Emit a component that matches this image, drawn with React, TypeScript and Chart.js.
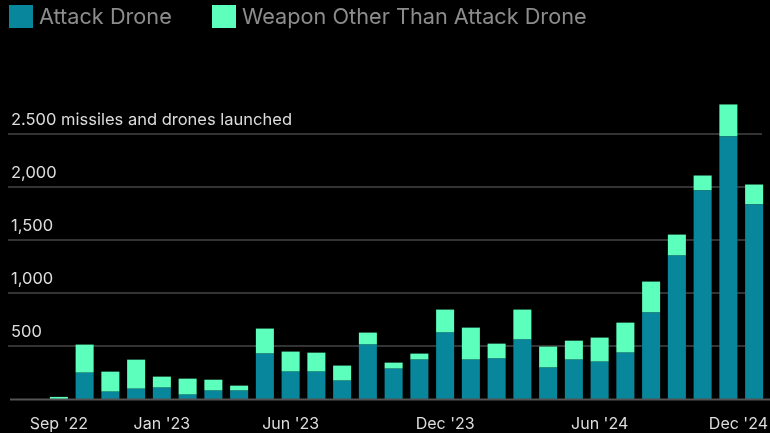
import React, { useEffect, useRef } from "react";
import { Chart, registerables } from "chart.js";

Chart.register(...registerables);

const months = [
  "Sep '22", "Oct '22", "Nov '22", "Dec '22", "Jan '23", "Feb '23", "Mar '23", "Apr '23",
  "May '23", "Jun '23", "Jul '23", "Aug '23", "Sep '23", "Oct '23", "Nov '23", "Dec '23",
  "Jan '24", "Feb '24", "Mar '24", "Apr '24", "May '24", "Jun '24", "Jul '24", "Aug '24",
  "Sep '24", "Oct '24", "Nov '24", "Dec '24",
];
const attackDrone = [
  0, 248, 69, 97, 107, 41, 79, 79, 428, 258, 258, 173, 513, 286, 371, 626,
  371, 381, 560, 296, 371, 352, 437, 815, 1352, 1966, 2475, 1834,
];
const otherWeapon = [
  20, 265, 189, 274, 104, 151, 103, 47, 236, 189, 179, 142, 113, 57, 57, 217,
  302, 141, 283, 198, 179, 227, 283, 292, 198, 141, 302, 188,
];
const yTicks = [500, 1000, 1500, 2000, 2500];
const yTickLabels = ["500", "1,000", "1,500", "2,000", "2.500 missiles and drones launched"];
const xTickMonths = ["Sep '22", "Jan '23", "Jun '23", "Dec '23", "Jun '24", "Dec '24"];
const seriesNames = ["Attack Drone", "Weapon Other Than Attack Drone"];

const TEAL = "#08869b";
const MINT = "#5cffbb";
const FONT = "Inter, 'DejaVu Sans', sans-serif";

const decorPlugin = {
  id: "decor",
  beforeDatasetsDraw(chart: any) {
    const { ctx, scales } = chart;
    const y = scales.y;
    ctx.save();
    ctx.strokeStyle = "#333333";
    ctx.lineWidth = 2;
    yTicks.forEach((v) => {
      const py = Math.round(y.getPixelForValue(v));
      ctx.beginPath();
      ctx.moveTo(8, py);
      ctx.lineTo(762, py);
      ctx.stroke();
    });
    ctx.restore();
  },
  afterDatasetsDraw(chart: any) {
    const { ctx, scales } = chart;
    const x = scales.x;
    const y = scales.y;
    const w = chart.width;
    ctx.save();
    // baseline
    ctx.strokeStyle = "#555555";
    ctx.lineWidth = 2;
    const by = Math.round(y.getPixelForValue(0)) + 0.5;
    ctx.beginPath();
    ctx.moveTo(10, by);
    ctx.lineTo(w, by);
    ctx.stroke();

    // y labels
    ctx.fillStyle = "#dddddd";
    ctx.font = `16.5px ${FONT}`;
    ctx.textAlign = "left";
    ctx.textBaseline = "alphabetic";
    yTicks.forEach((v, i) => {
      const py = y.getPixelForValue(v);
      ctx.fillText(yTickLabels[i], 11, py - 9);
    });

    // x labels
    ctx.font = `16px ${FONT}`;
    xTickMonths.forEach((m) => {
      const idx = months.indexOf(m);
      const px = x.getPixelForValue(idx);
      const tw = ctx.measureText(m).width;
      let left = px - tw / 2;
      if (left + tw > w - 2) left = w - 2 - tw;
      ctx.textAlign = "left";
      ctx.fillText(m, left, 429);
    });

    // legend
    ctx.font = `21.7px ${FONT}`;
    ctx.textBaseline = "middle";
    const colors = [TEAL, MINT];
    const starts = [9, 212];
    seriesNames.forEach((name, i) => {
      ctx.fillStyle = colors[i];
      ctx.fillRect(starts[i], 5, 24, 23);
      ctx.fillStyle = "#8c8c8c";
      ctx.fillText(name, starts[i] + 30, 17);
    });
    ctx.restore();
  },
};

export default function App() {
  const ref = useRef<HTMLCanvasElement | null>(null);
  useEffect(() => {
    if (!ref.current) return;
    const chart = new Chart(ref.current, {
      type: "bar",
      data: {
        labels: months,
        datasets: [
          {
            label: seriesNames[0],
            data: attackDrone,
            backgroundColor: TEAL,
            barPercentage: 0.7,
            categoryPercentage: 1,
          },
          {
            label: seriesNames[1],
            data: otherWeapon,
            backgroundColor: MINT,
            barPercentage: 0.7,
            categoryPercentage: 1,
          },
        ],
      },
      options: {
        animation: false,
        responsive: false,
        maintainAspectRatio: false,
        layout: { padding: { left: 46, right: 3, top: 102, bottom: 34 } },
        plugins: { legend: { display: false }, tooltip: { enabled: false } },
        scales: {
          x: { stacked: true, display: false },
          y: { stacked: true, display: false, min: 0, max: 2800 },
        },
      },
      plugins: [decorPlugin],
    });
    return () => chart.destroy();
  }, []);
  return (
    <div
      style={{
        position: "fixed",
        left: 0,
        top: 0,
        width: 770,
        height: 433,
        background: "#000000",
      }}
    >
      <canvas ref={ref} width={770} height={433} style={{ display: "block" }} />
    </div>
  );
}
